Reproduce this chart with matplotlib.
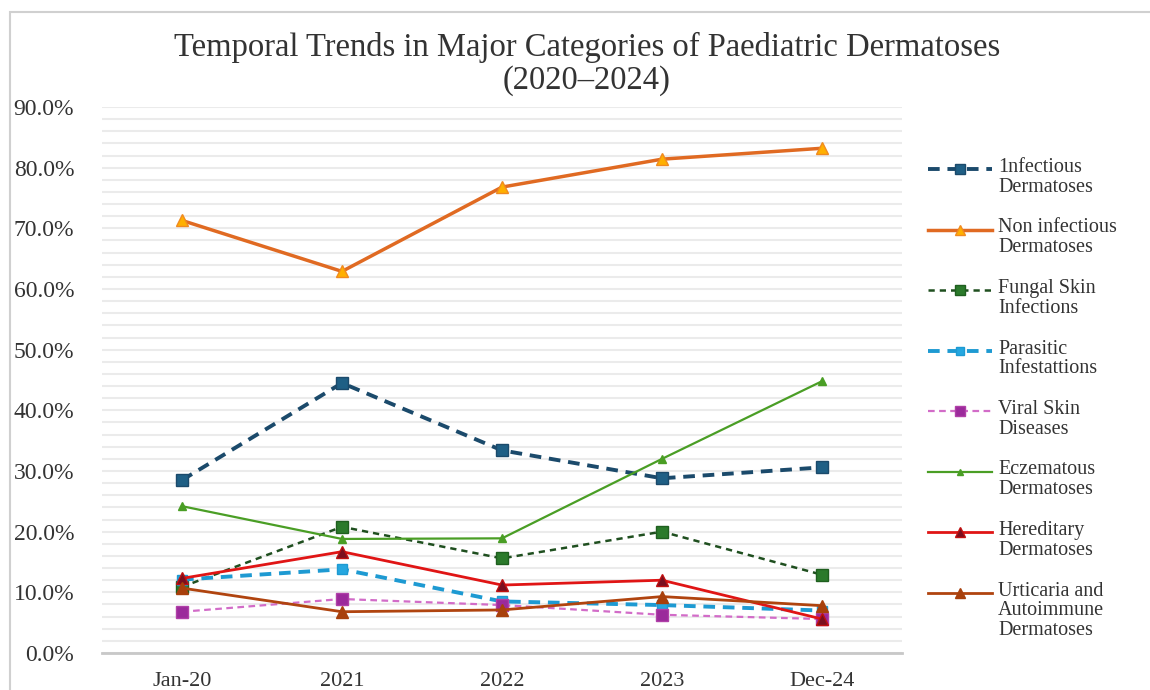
import matplotlib
matplotlib.use("Agg")
import matplotlib.pyplot as plt
from matplotlib.lines import Line2D
from matplotlib.patches import Rectangle
from matplotlib.ticker import MultipleLocator, FuncFormatter

plt.rcParams['font.family'] = ['Liberation Serif', 'DejaVu Serif']

categories = ["Jan-20", "2021", "2022", "2023", "Dec-24"]
series_names = [
    "1nfectious\nDermatoses",
    "Non infectious\nDermatoses",
    "Fungal Skin\nInfections",
    "Parasitic\nInfestattions",
    "Viral Skin\nDiseases",
    "Eczematous\nDermatoses",
    "Hereditary\nDermatoses",
    "Urticaria and\nAutoimmune\nDermatoses",
]
infectious = [28.5, 44.5, 33.4, 28.8, 30.6]
non_infectious = [71.3, 62.9, 76.8, 81.4, 83.2]
fungal = [10.9, 20.8, 15.6, 20.0, 12.9]
parasitic = [12.1, 13.8, 8.5, 7.9, 7.0]
viral = [6.8, 8.9, 7.9, 6.3, 5.6]
eczematous = [24.2, 18.8, 18.9, 32.0, 44.8]
hereditary = [12.3, 16.7, 11.2, 12.0, 5.6]
urticaria = [10.7, 6.8, 7.1, 9.3, 7.8]
values = [infectious, non_infectious, fungal, parasitic, viral,
          eczematous, hereditary, urticaria]

styles = [
    dict(color="#1B4A6B", ls=(0, (3, 2)), lw=2.8, marker="s", ms=8, mfc="#1F5F85", mec="#1B4A6B"),
    dict(color="#E06A22", ls="-", lw=2.5, marker="^", ms=8, mfc="#FFB000", mec="#F08A20"),
    dict(color="#1F4F1F", ls=(0, (2.5, 2)), lw=1.8, marker="s", ms=8, mfc="#2B7A2B", mec="#1F5F1F"),
    dict(color="#1E9AD2", ls=(0, (3, 2)), lw=2.8, marker="s", ms=7, mfc="#25A7E0", mec="#1E9AD2"),
    dict(color="#D26CC8", ls=(0, (3, 2)), lw=1.6, marker="s", ms=8, mfc="#9B2A9B", mec="#B040A8"),
    dict(color="#4A9E25", ls="-", lw=1.6, marker="^", ms=6, mfc="#4A9E25", mec="#4A9E25"),
    dict(color="#E01515", ls="-", lw=2.0, marker="^", ms=8, mfc="#7A0F1F", mec="#C01010"),
    dict(color="#B0440F", ls="-", lw=2.0, marker="^", ms=8, mfc="#A8400C", mec="#A8400C"),
]

W, H = 1150, 690
fig = plt.figure(figsize=(W / 100, H / 100), dpi=100)
fig.patch.set_facecolor("white")

# outer chart border
fig.add_artist(Rectangle((10 / W, -0.05), 1.2, 1 - 12 / H + 0.05, transform=fig.transFigure,
                         fill=False, ec="#D0D0D0", lw=1.5))

ax = fig.add_axes([102 / W, 1 - 653 / H, 800 / W, (653 - 107) / H])
x = list(range(len(categories)))
for vals, st in zip(values, styles):
    ax.plot(x, vals, color=st["color"], ls=st["ls"], lw=st["lw"], marker=st["marker"],
            ms=st["ms"], mfc=st["mfc"], mec=st["mec"], mew=1, zorder=3)

ax.set_xlim(-0.5, len(categories) - 0.5)
ax.set_ylim(0, 90)
ax.yaxis.set_major_locator(MultipleLocator(10))
ax.yaxis.set_minor_locator(MultipleLocator(2))
ax.yaxis.set_major_formatter(FuncFormatter(lambda v, p: f"{v:.1f}%"))
ax.grid(axis="y", which="both", color="#EBEBEB", lw=1.5, zorder=0)
ax.set_axisbelow(True)
for s in ["top", "right", "left"]:
    ax.spines[s].set_visible(False)
ax.spines["bottom"].set_color("#C8C8C8")
ax.spines["bottom"].set_linewidth(2)
ax.set_xticks(x)
ax.set_xticklabels(categories)
ax.tick_params(axis="y", which="both", length=0, pad=20, labelsize=17, labelcolor="#333333")
ax.tick_params(axis="x", length=0, pad=14, labelsize=16, labelcolor="#333333")

fig.text(587 / W, 1 - 64 / H, "Temporal Trends in Major Categories of Paediatric Dermatoses\n(2020–2024)",
         ha="center", va="center", fontsize=23.5, color="#333333", linespacing=1.1)

# legend (text first line aligned with handle)
y0 = 169
for i, (name, st) in enumerate(zip(series_names, styles)):
    ypix = y0 + i * 60.5
    yy = 1 - ypix / H
    fig.add_artist(Line2D([928 / W, 992 / W], [yy, yy], transform=fig.transFigure,
                          color=st["color"], ls=st["ls"], lw=st["lw"]))
    fig.add_artist(Line2D([960 / W], [yy], transform=fig.transFigure, marker=st["marker"],
                          ms=st["ms"] - 1, mfc=st["mfc"], mec=st["mec"], mew=1, ls="none"))
    fig.text(998 / W, 1 - (ypix - 11) / H, name, ha="left", va="top", fontsize=14.5,
             color="#333333", linespacing=1.05)

fig.savefig("out.png", dpi=100, facecolor="white")
